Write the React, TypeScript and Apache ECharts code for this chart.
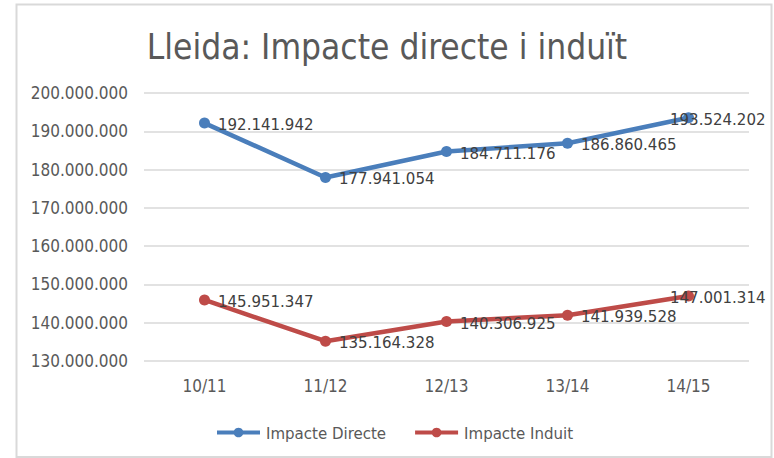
import React, { useEffect, useRef } from "react";
import * as echarts from "echarts";

const categories = ["10/11", "11/12", "12/13", "13/14", "14/15"];
const impacteDirecte = [192141942, 177941054, 184711176, 186860465, 193524202];
const impacteInduit = [145951347, 135164328, 140306925, 141939528, 147001314];
const seriesNames = ["Impacte Directe", "Impacte Induit"];
const titleText = "Lleida: Impacte directe i induït";

const fmt = (v: number) =>
  Math.round(v)
    .toString()
    .replace(/\B(?=(\d{3})+(?!\d))/g, ".");

const FONT = "'DejaVu Sans Condensed', 'DejaVu Sans', sans-serif";

export default function App() {
  const ref = useRef<HTMLDivElement>(null);
  useEffect(() => {
    if (!ref.current) return;
    const chart = echarts.init(ref.current, null, { renderer: "svg" });
    const label = {
      show: true,
      position: "right" as const,
      distance: 8,
      offset: [0, 1],
      color: "#404040",
      fontSize: 16.7,
      fontFamily: FONT,
      formatter: (p: any) => fmt(p.value),
    };
    // last point label shifted left so it stays inside the frame (as in the reference)
    const withLastShift = (arr: number[]) =>
      arr.map((v, i) =>
        i === arr.length - 1 ? { value: v, label: { offset: [-32, 1] } } : v
      );
    chart.setOption({
      animation: false,
      backgroundColor: "#ffffff",
      title: {
        text: titleText,
        left: "center",
        top: 24,
        textStyle: {
          fontFamily: FONT,
          fontSize: 35,
          fontWeight: "normal",
          color: "#595959",
        },
      },
      graphic: [
        {
          type: "rect",
          shape: { x: 16.5, y: 4.5, width: 755, height: 452.5 },
          style: { fill: "none", stroke: "#d9d9d9", lineWidth: 2 },
          silent: true,
          z: -1,
        },
      ],
      legend: {
        bottom: 17,
        left: 215,
        padding: 0,
        itemWidth: 43,
        itemHeight: 12,
        itemGap: 27,
        lineStyle: { width: 4 },
        textStyle: { fontFamily: FONT, fontSize: 16.7, color: "#595959", padding: [0, 0, 0, 1] },
        data: seriesNames,
      },
      grid: { left: 144, right: 25, top: 93, bottom: 97 },
      xAxis: {
        type: "category",
        data: categories,
        boundaryGap: true,
        axisLine: { show: false },
        axisTick: { show: false },
        axisLabel: {
          color: "#595959",
          fontSize: 17,
          fontFamily: FONT,
          margin: 16,
        },
      },
      yAxis: {
        type: "value",
        min: 130000000,
        max: 200000000,
        interval: 10000000,
        axisLine: { show: false },
        axisTick: { show: false },
        splitLine: { lineStyle: { color: "#d9d9d9", width: 1.5 } },
        axisLabel: {
          color: "#595959",
          fontSize: 17,
          fontFamily: FONT,
          margin: 16,
          formatter: (v: number) => fmt(v),
        },
      },
      series: [
        {
          name: seriesNames[0],
          type: "line",
          data: withLastShift(impacteDirecte),
          symbol: "circle",
          symbolSize: 11,
          itemStyle: { color: "#4a7ebb" },
          lineStyle: { color: "#4a7ebb", width: 4.5 },
          label,
        },
        {
          name: seriesNames[1],
          type: "line",
          data: withLastShift(impacteInduit),
          symbol: "circle",
          symbolSize: 11,
          itemStyle: { color: "#be4b48" },
          lineStyle: { color: "#be4b48", width: 4.5 },
          label,
        },
      ],
    });
    return () => chart.dispose();
  }, []);
  return (
    <div
      ref={ref}
      style={{ position: "fixed", left: 0, top: 0, width: 774, height: 458 }}
    />
  );
}
